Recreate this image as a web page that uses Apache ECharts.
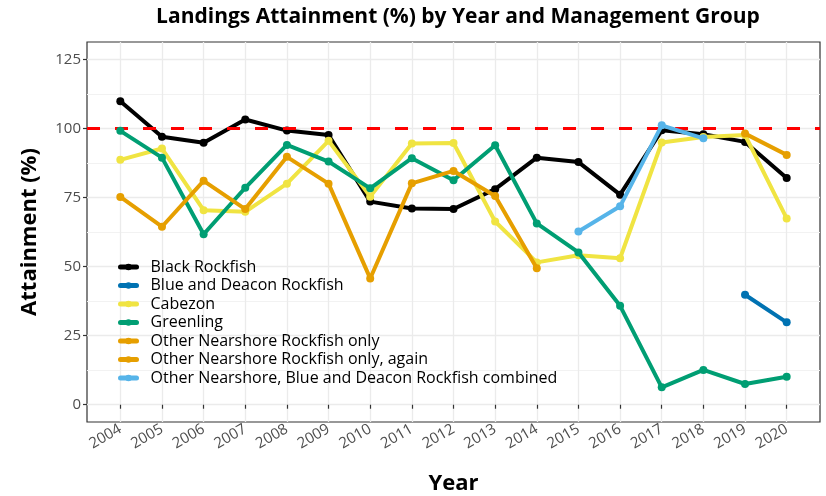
<!DOCTYPE html>
<html>
<head>
<meta charset="utf-8">
<script src="https://cdn.jsdelivr.net/npm/echarts@6/dist/echarts.min.js"></script>
<style>html,body{margin:0;padding:0;background:#fff}#c{width:826px;height:496px}</style>
</head>
<body>
<div id="c"></div>
<script>
const years = [2004,2005,2006,2007,2008,2009,2010,2011,2012,2013,2014,2015,2016,2017,2018,2019,2020];
const yTicks = [0,25,50,75,100,125];
const yMinor = [12.5,37.5,62.5,87.5,112.5];
const blackRockfish = [109.8,97.0,94.8,103.2,99.2,97.6,73.5,71.0,70.8,78.0,89.4,87.8,76.0,99.3,97.9,95.1,82.0];
const blueDeacon    = [null,null,null,null,null,null,null,null,null,null,null,null,null,null,null,39.8,29.8];
const cabezon       = [88.6,92.7,70.4,69.8,80.0,95.5,75.3,94.5,94.7,66.3,51.5,54.1,53.0,94.9,96.9,97.6,67.4];
const greenling     = [99.1,89.4,61.7,78.5,94.0,88.0,78.3,89.2,81.2,93.9,65.6,55.1,35.8,6.3,12.6,7.5,10.1];
const otherNearshore = [75.2,64.4,81.0,70.8,89.7,80.0,45.7,80.1,84.6,75.5,49.4,null,null,null,null,null,null];
const otherNearshoreAgain = [null,null,null,null,null,null,null,null,null,null,null,null,null,null,null,98.1,90.4];
const combined      = [null,null,null,null,null,null,null,null,null,null,null,62.7,71.8,101.1,96.4,null,null];
const target = 100;

const names = ['Black Rockfish','Blue and Deacon Rockfish','Cabezon','Greenling','Other Nearshore Rockfish only','Other Nearshore Rockfish only, again','Other Nearshore, Blue and Deacon Rockfish combined'];
const colors = ['#000000','#0072B2','#F0E442','#009E73','#E69F00','#E69F00','#56B4E9'];
const values = [blackRockfish, blueDeacon, cabezon, greenling, otherNearshore, otherNearshoreAgain, combined];

const FONT = "'Open Sans', 'Noto Sans', sans-serif";
const series = values.map((vals, i) => ({
  name: names[i],
  type: 'line',
  data: years.map((y, j) => [y, vals[j]]).filter(p => p[1] !== null),
  symbol: 'circle',
  symbolSize: 8,
  lineStyle: {width: 4, color: colors[i], cap: 'round', join: 'round'},
  itemStyle: {color: colors[i]},
  color: colors[i],
  z: 3 + i
}));
series.push({
  type: 'line', data: [], silent: true, z: 20,
  markLine: {
    silent: true, symbol: ['none','none'],
    label: {show: false},
    lineStyle: {color: '#FF0000', width: 3.2, type: [13, 15]},
    data: [{yAxis: target}]
  }
});

const chart = echarts.init(document.getElementById('c'), null, {renderer: 'canvas'});
chart.setOption({
  animation: false,
  textStyle: {fontFamily: FONT},
  title: {
    text: 'Landings Attainment (%) by Year and Management Group',
    left: 453, top: 2, textAlign: 'center',
    textStyle: {fontFamily: FONT, fontSize: 21, fontWeight: 'bold', color: '#000'}
  },
  legend: {
    orient: 'vertical', left: 113, top: 253,
    itemWidth: 16, itemHeight: 8, itemGap: 0.5,
    lineStyle: {width: 5, cap: 'round'},
    textStyle: {fontFamily: FONT, fontSize: 16, color: '#000', lineHeight: 18, padding: [0,0,0,9]},
    data: names
  },
  grid: {left: 87, right: 6, top: 42, bottom: 74, containLabel: false, outerBoundsMode: 'none',
    show: true, borderColor: '#333333', borderWidth: 1.2, backgroundColor: 'transparent'},
  xAxis: {
    type: 'value', min: 2003.2, max: 2020.8,
    name: 'Year', nameLocation: 'middle', nameGap: 51,
    nameTextStyle: {fontFamily: FONT, fontSize: 22, fontWeight: 'bold', color: '#000'},
    axisLine: {show: false},
    axisTick: {show: true, customValues: years, length: 4, lineStyle: {color: '#333', width: 1.2}},
    axisLabel: {customValues: years, rotate: 30, color: '#4D4D4D', fontSize: 15, margin: 6, fontFamily: FONT,
      formatter: v => String(v)},
    splitLine: {show: true, lineStyle: {color: '#EBEBEB', width: 1.3}}
  },
  yAxis: [{
    type: 'value', min: -6.25, max: 131.25,
    name: 'Attainment (%)', nameLocation: 'middle', nameGap: 46, nameRotate: 90,
    nameTextStyle: {fontFamily: FONT, fontSize: 22, fontWeight: 'bold', color: '#000'},
    axisLine: {show: false},
    axisTick: {show: true, customValues: yTicks, length: 4, lineStyle: {color: '#333', width: 1.2}},
    axisLabel: {customValues: yTicks, color: '#4D4D4D', fontSize: 15, margin: 6, fontFamily: FONT},
    splitLine: {show: true, lineStyle: {color: '#EBEBEB', width: 1.3}}
  }, {
    type: 'value', min: -6.25, max: 131.25, position: 'left',
    axisLine: {show: false},
    axisTick: {show: false, customValues: yMinor},
    axisLabel: {show: false, customValues: yMinor},
    splitLine: {show: true, lineStyle: {color: '#F2F2F2', width: 1}}
  }],
  series: series
});
</script>
</body>
</html>
